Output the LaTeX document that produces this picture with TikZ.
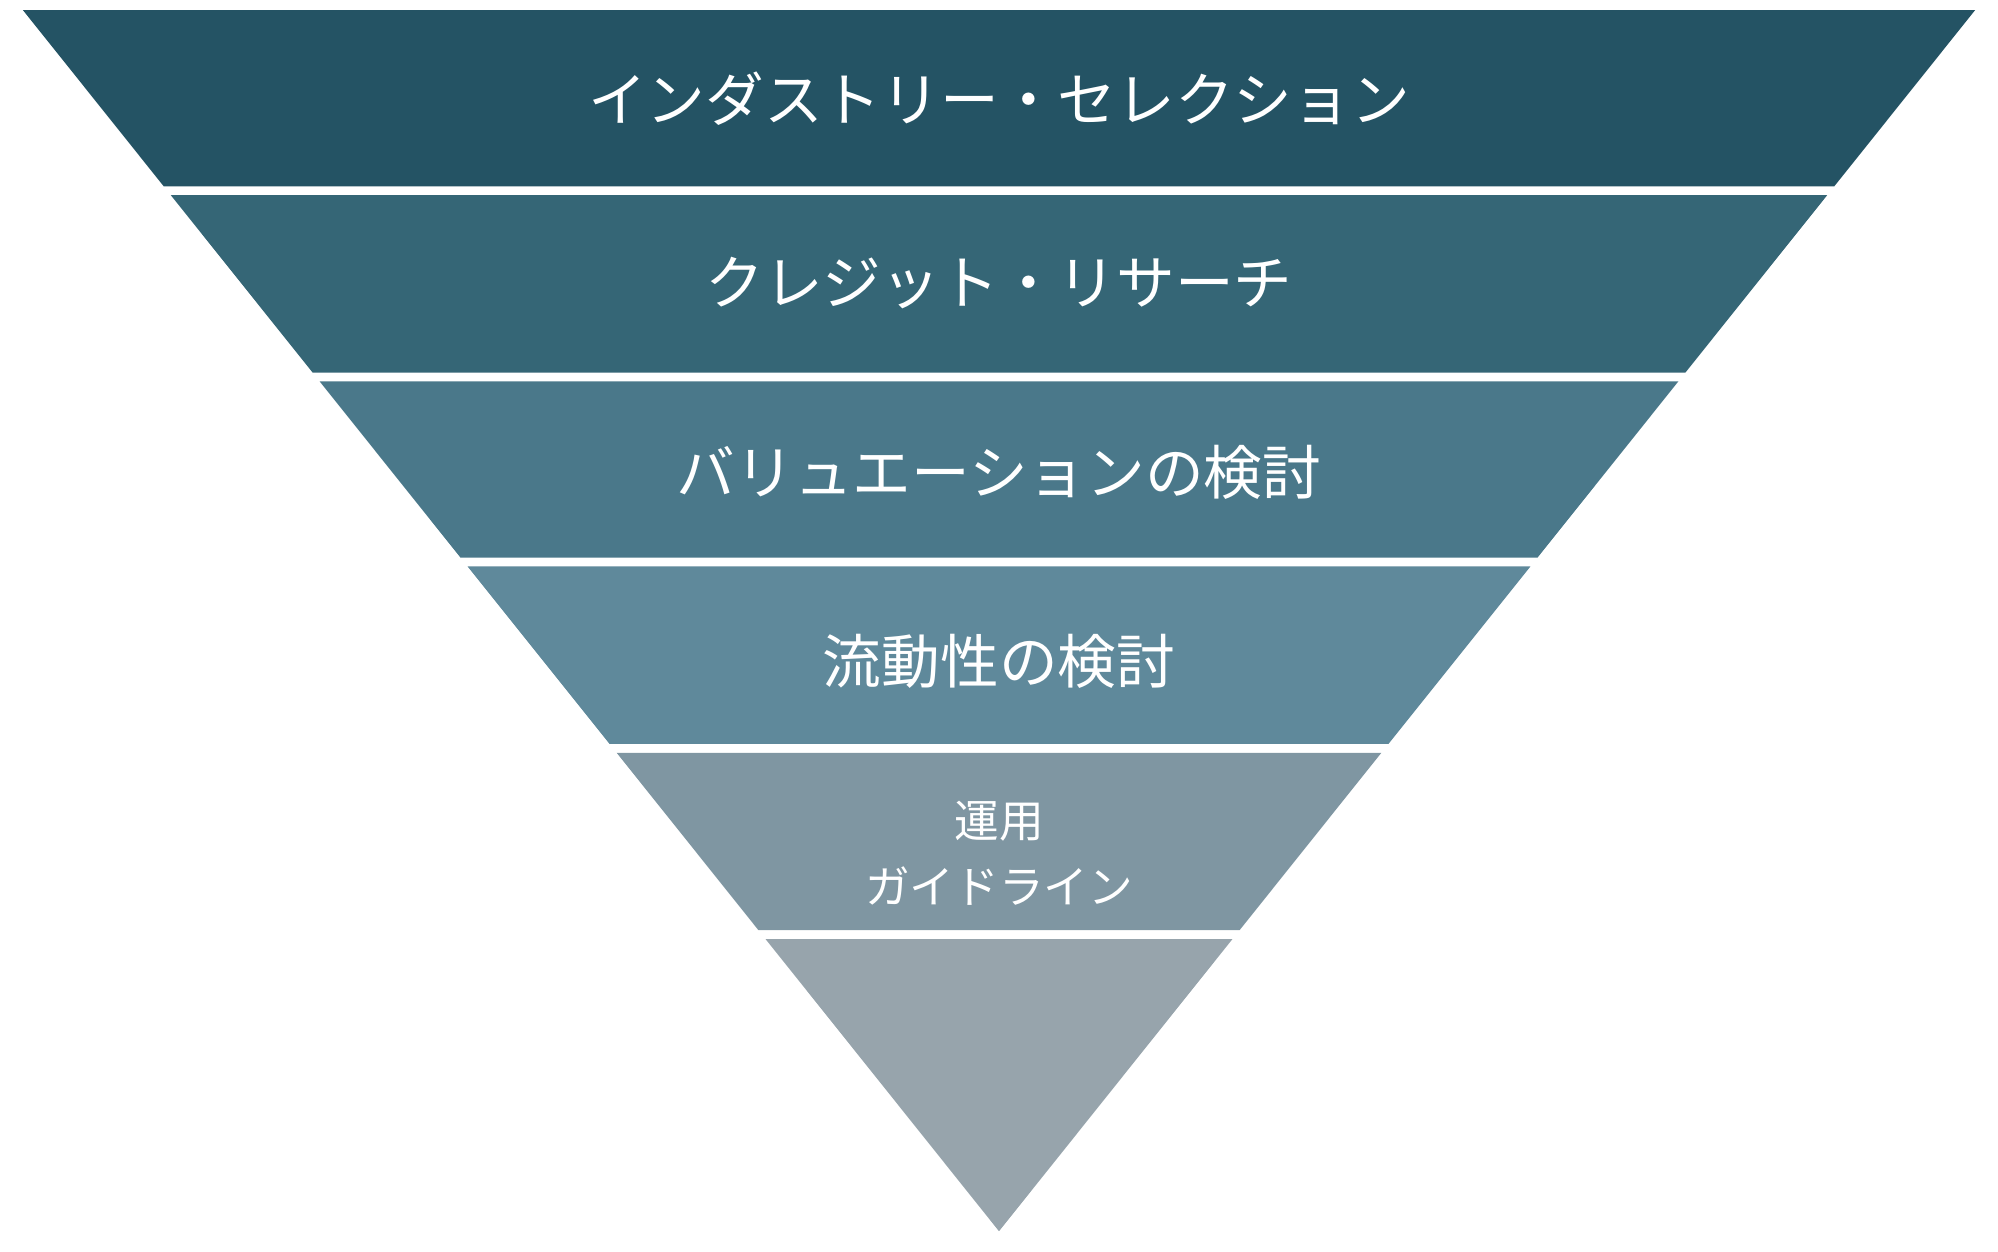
\documentclass[tikz,border=0pt]{standalone}
\usepackage{fontspec}
\newfontfamily\jp{Noto Sans CJK JP}
\definecolor{c1}{HTML}{245364}
\definecolor{c2}{HTML}{356676}
\definecolor{c3}{HTML}{4A788A}
\definecolor{c4}{HTML}{5F899B}
\definecolor{c5}{HTML}{7F96A2}
\definecolor{c6}{HTML}{97A4AC}
\tikzset{lbl/.style={text=white,font=\jp\fontsize{46}{52}\selectfont,align=center},
lbls/.style={text=white,font=\jp\fontsize{35}{52}\selectfont,align=center}}
\begin{document}
\begin{tikzpicture}[x=1pt,y=-1pt]
\useasboundingbox (0,0) rectangle (1566,981);
\fill[c1] (18,8) -- (1548,8) -- (1437.7,146) -- (128.3,146) -- cycle;
\fill[c2] (133.9,153) -- (1432.1,153) -- (1321,292) -- (245,292) -- cycle;
\fill[c3] (250.6,299) -- (1315.4,299) -- (1205.1,437) -- (360.9,437) -- cycle;
\fill[c4] (366.5,444) -- (1199.5,444) -- (1088.3,583) -- (477.7,583) -- cycle;
\fill[c5] (483.3,590) -- (1082.7,590) -- (971.6,729) -- (594.4,729) -- cycle;
\fill[c6] (600,736) -- (966,736) -- (783,965) -- cycle;
\node[lbl] (t1) at (783,77) {インダストリー・セレクション};
\node[lbl] (t2) at (783,222) {クレジット・リサーチ};
\node[lbl] (t3) at (783,370) {バリュエーションの検討};
\node[lbl] (t4) at (783,518) {流動性の検討};
\node[lbls] (t5) at (783,669) {運用\\ガイドライン};
\end{tikzpicture}
\end{document}
